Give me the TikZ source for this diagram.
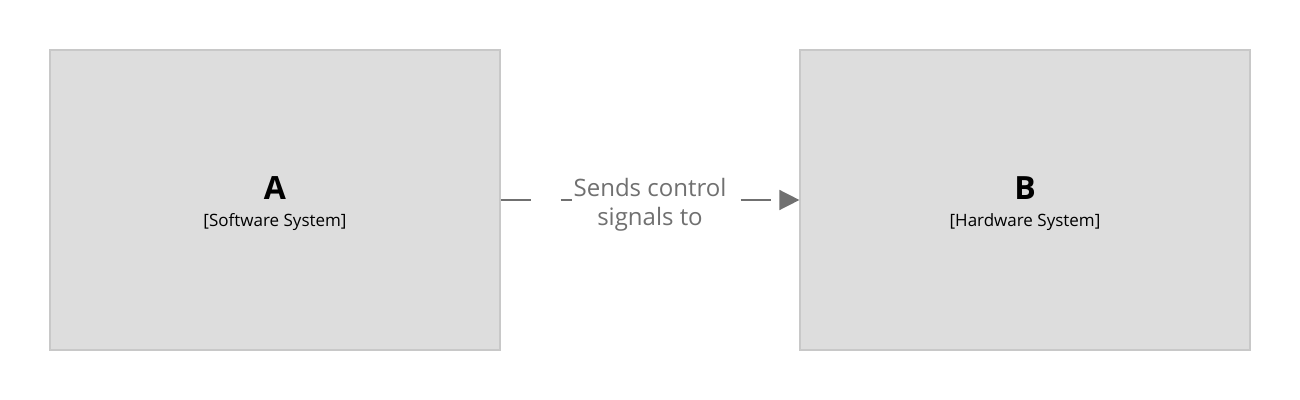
\documentclass[tikz,border=0pt]{standalone}
\usepackage{fontspec}
\setmainfont{Open Sans}
\usetikzlibrary{arrows.meta}
\definecolor{boxfill}{HTML}{DDDDDD}
\definecolor{boxline}{HTML}{C8C8C8}
\definecolor{linkgray}{HTML}{707070}
\newcommand{\systitle}[1]{{\fontsize{16}{18}\selectfont\bfseries\rule{0pt}{15.5pt}#1}}
\newcommand{\syskind}[1]{{\fontsize{8.5}{10}\selectfont #1}}

\begin{document}
\begin{tikzpicture}[x=0.5pt,y=-0.5pt,
    system/.style={draw=boxline,line width=0.6pt,fill=boxfill,
        minimum width=225pt,minimum height=150pt,align=center,inner sep=0pt},
    link/.style={draw=linkgray,line width=0.75pt,dash pattern=on 15pt off 15pt,
        -{Triangle[width=10pt,length=10pt]}},
    linklabel/.style={fill=white,text=linkgray,align=center,inner sep=1pt,
        font=\fontsize{12}{14.5}\selectfont}]
       \useasboundingbox (0,0) rectangle (1300,400);
       \node[system] (A) at ( 275,200) {\systitle{A}\\[1.5pt]\syskind{[Software System]}};
       \node[system] (B) at (1025,200) {\systitle{B}\\[1.5pt]\syskind{[Hardware System]}};
       \draw[link] (A.east) -- (B.west);
       \node[linklabel] (sends) at (650,205) {Sends control\\signals to};
      \end{tikzpicture}
\end{document}
